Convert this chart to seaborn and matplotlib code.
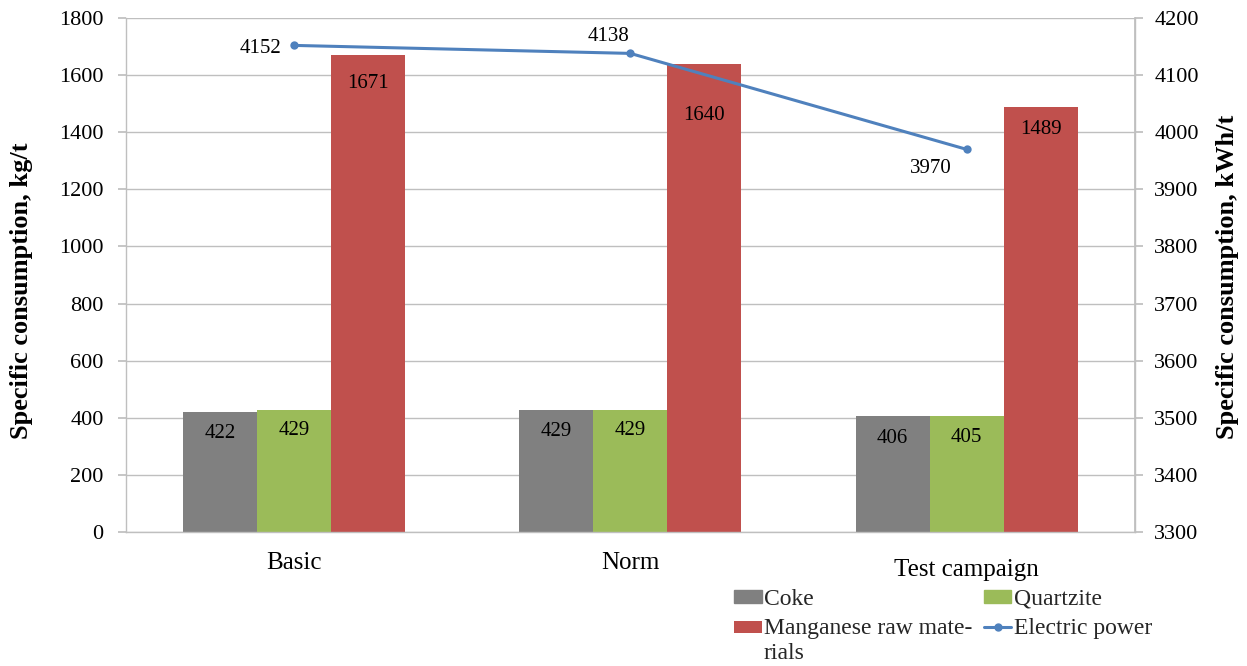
import numpy as np
import pandas as pd
import seaborn as sns
import matplotlib.pyplot as plt
from matplotlib.patches import Patch, Rectangle
from matplotlib.lines import Line2D
from matplotlib.legend_handler import HandlerPatch
from matplotlib.transforms import offset_copy

categories = ["Basic", "Norm", "Test campaign"]
coke = [422, 429, 406]
quartzite = [429, 429, 405]
manganese = [1671, 1640, 1489]
electric_power = [4152, 4138, 3970]

series_names = ["Coke", "Quartzite", "Manganese raw materials"]
series_colors = ["#808080", "#9BBB59", "#C0504D"]
line_color = "#4F81BD"

sns.set_theme(style="white")
plt.rcParams["font.family"] = ["Liberation Serif", "DejaVu Serif"]

df = pd.DataFrame({
    "category": np.repeat(categories, 3),
    "series": series_names * len(categories),
    "value": np.ravel(np.column_stack([coke, quartzite, manganese])),
})

fig = plt.figure(figsize=(12.47, 6.66), dpi=100)
ax = fig.add_axes([0.101, 0.201, 0.809, 0.772])

sns.barplot(data=df, x="category", y="value", hue="series", order=categories,
            hue_order=series_names, palette=series_colors, width=0.66,
            saturation=1, errorbar=None, ax=ax, legend=False, linewidth=0)

grid_c = "#BFBFBF"
ax.set_xlim(-0.5, len(categories) - 0.5)
ax.set_ylim(0, 1800)
ax.set_yticks(np.arange(0, 1801, 200))
ax.yaxis.grid(True, color=grid_c, linewidth=1)
ax.set_axisbelow(True)
ax.spines["top"].set_visible(False)
for s in ["left", "bottom", "right"]:
    ax.spines[s].set_color(grid_c)
    ax.spines[s].set_linewidth(1)
ax.tick_params(axis="y", which="major", length=6, color=grid_c, labelsize=16, pad=10,
               labelcolor="black")
ax.set_xticks(range(len(categories)))
ax.set_xticklabels(categories, fontsize=18, color="black")
ax.tick_params(axis="x", which="major", length=0, pad=14)
ax.set_xticks(np.arange(-0.5, len(categories), 1.0), minor=True)
ax.tick_params(axis="x", which="minor", length=6, color=grid_c, direction="out")
ax.xaxis.get_major_ticks()[2].set_pad(19)
ax.set_xlabel("")
ax.set_ylabel("Specific consumption, kg/t", fontsize=19, fontweight="bold", color="black")
ax.yaxis.set_label_coords(-0.092, 0.469)

# value labels inside the bars, near their tops (points below the top)
label_drop = {"Coke": [16, 16, 16], "Quartzite": [15, 15, 15],
              "Manganese raw materials": [21, 37, 16]}
for container, name in zip(ax.containers, series_names):
    for i, bar in enumerate(container):
        h = bar.get_height()
        x = bar.get_x() + bar.get_width() / 2
        tr = offset_copy(ax.transData, fig=fig, y=-label_drop[name][i], units="points")
        ax.text(x, h, f"{h:.0f}", transform=tr, ha="center", va="center",
                fontsize=15, color="black")

# electric power on the secondary axis
ax2 = ax.twinx()
sns.lineplot(x=np.arange(len(categories)), y=electric_power, ax=ax2, color=line_color,
             linewidth=2.2, marker="o", markersize=6, markeredgewidth=0)
ax2.set_ylim(3300, 4200)
ax2.set_yticks(np.arange(3300, 4201, 100))
ax2.set_xlim(-0.5, len(categories) - 0.5)
for s in ["top", "left", "bottom"]:
    ax2.spines[s].set_visible(False)
ax2.spines["right"].set_color(grid_c)
ax2.tick_params(axis="y", length=6, color=grid_c, labelsize=16, pad=8, labelcolor="black")
ax2.set_ylabel("Specific consumption, kWh/t", fontsize=19, fontweight="bold", color="black")
ax2.yaxis.set_label_coords(1.081, 0.496)

power_offsets = [(-24, -2), (-16, 12), (-26, -14)]
for i, (v, (dx, dy)) in enumerate(zip(electric_power, power_offsets)):
    tr = offset_copy(ax2.transData, fig=fig, x=dx, y=dy, units="points")
    ax2.text(i, v, f"{v}", transform=tr, ha="center", va="center", fontsize=15,
             color="black")


class TopAlignedPatch(HandlerPatch):
    """Patch handle aligned with the first line of a two-line label."""

    def __init__(self, shift, **kw):
        super().__init__(**kw)
        self.shift = shift

    def create_artists(self, legend, orig_handle, xdescent, ydescent, width, height,
                       fontsize, trans):
        p = Rectangle((-xdescent, -ydescent + self.shift), width, height,
                      facecolor=orig_handle.get_facecolor(), edgecolor="none",
                      transform=trans)
        return [p]


handles = [
    Patch(color=series_colors[0]),
    Patch(color=series_colors[2]),
    Patch(color=series_colors[1]),
    Line2D([], [], color=line_color, linewidth=2.2, marker="o", markersize=5),
]
labels = ["Coke", "Manganese raw mate-\nrials", "Quartzite", "Electric power"]
leg = fig.legend(handles, labels, ncol=2, loc="upper left", bbox_to_anchor=(0.589, 0.116),
                 frameon=False, fontsize=17, handlelength=1.15, handleheight=0.45,
                 handletextpad=0.1, columnspacing=0.5, labelspacing=0.36, borderpad=0,
                 borderaxespad=0,
                 handler_map={handles[1]: TopAlignedPatch(shift=10)})
for t in leg.get_texts():
    t.set_linespacing(1.25)

fig.savefig("out.png", dpi=100)
